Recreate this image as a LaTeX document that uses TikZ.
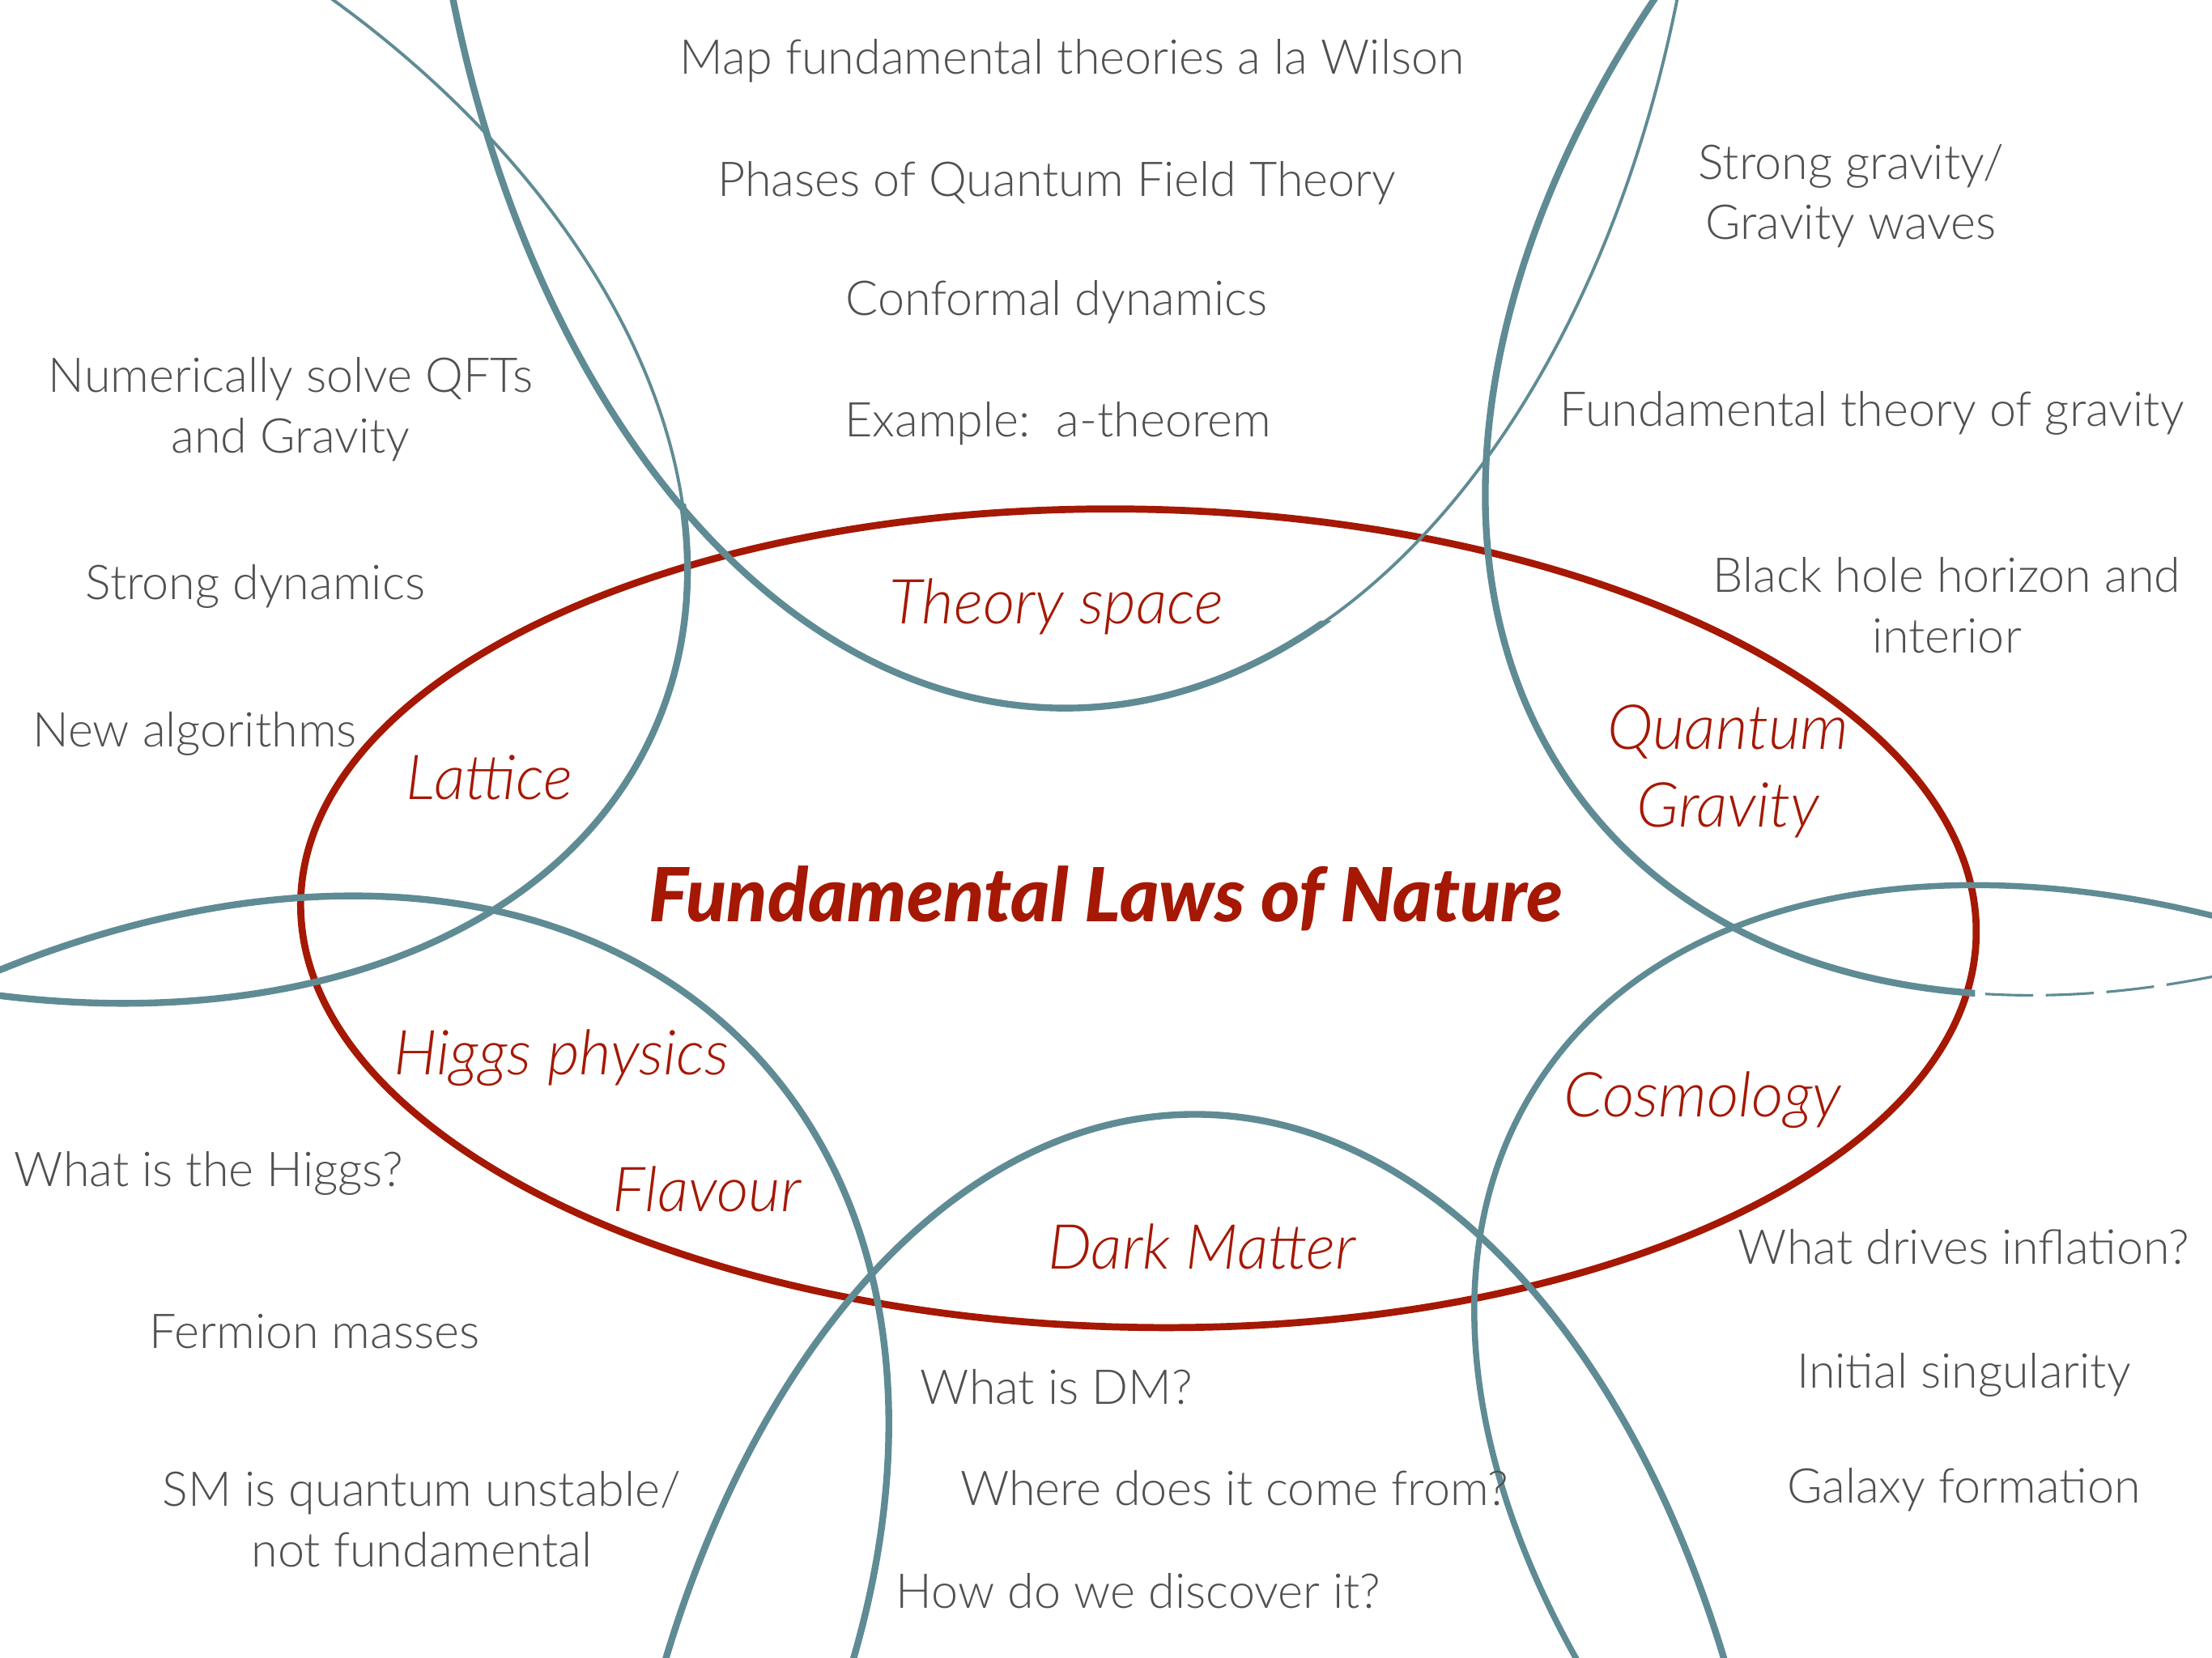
\documentclass[tikz,border=0pt]{standalone}
\usepackage{fontspec}
\setmainfont{Lato}[UprightFont=* Light, ItalicFont=* Light Italic, BoldFont=* Black, BoldItalicFont=* Black Italic]
\definecolor{tealc}{RGB}{95,139,148}
\definecolor{redc}{RGB}{165,24,4}
\definecolor{txtgray}{RGB}{80,80,80}
\begin{document}
\begin{tikzpicture}[x=1pt,y=-1pt,
  gtext/.style={text=txtgray, font=\fontsize{34}{43}\selectfont, align=center, inner sep=0pt},
  rtext/.style={text=redc, font=\fontsize{44}{55}\selectfont\itshape, align=center, inner sep=0pt},
  ctext/.style={text=redc, font=\fontsize{53}{60}\selectfont\bfseries\itshape, inner sep=0pt},
  thick teal/.style={draw=tealc, line width=4.8pt},
  thin teal/.style={draw=tealc, line width=2.2pt},
  redline/.style={draw=redc, line width=5pt}]
\useasboundingbox (0,0) rectangle (1568,1175);
\fill[white] (0,0) rectangle (1568,1175);
\clip (0,0) rectangle (1568,1175);

% red ellipse
\draw[redline, rotate around={-1.2:(807,651)}] (807,651) ellipse [x radius=594pt, y radius=290pt];

% lattice ellipse (upper part thin)
\draw[thin teal, rotate around={-24.2:(-83,273)}] (-83,273) ellipse [x radius=599pt, y radius=398pt];
\begin{scope}
  \clip (-50,357) rectangle (700,900);
  \draw[thick teal, rotate around={-24.2:(-83,273)}] (-83,273) ellipse [x radius=599pt, y radius=398pt];
\end{scope}

% theory space ellipse (upper right part thin)
\draw[thin teal] (755,-218) ellipse [x radius=455pt, y radius=720pt];
\begin{scope}
  \clip (-50,-50) -- (900,-50) -- (900,440) -- (1300,440) -- (1300,900) -- (-50,900) -- cycle;
  \draw[thick teal] (755,-218) ellipse [x radius=455pt, y radius=720pt];
\end{scope}

% quantum gravity ellipse (lower right tail dashed)
\begin{scope}
  \clip (-50,-50) -- (1600,-50) -- (1600,600) -- (1400,600) -- (1400,900) -- (-50,900) -- cycle;
  \draw[thick teal, rotate around={38.4:(1665,144)}] (1665,144) ellipse [x radius=689pt, y radius=464pt];
\end{scope}
\begin{scope}
  \clip (1400,600) rectangle (1600,900);
  \draw[draw=tealc, line width=1.8pt, dash pattern=on 34pt off 9pt, rotate around={38.4:(1665,144)}] (1665,144) ellipse [x radius=689pt, y radius=464pt];
\end{scope}

% cosmology ellipse
\draw[thick teal, line width=4.3pt, rotate around={-34.2:(1645,1138)}] (1645,1138) ellipse [x radius=667pt, y radius=419pt];

% dark matter ellipse
\draw[thick teal] (847,1487) ellipse [x radius=419pt, y radius=697pt];

% higgs ellipse
\draw[thick teal, rotate around={43.8:(30,1226)}] (30,1226) ellipse [x radius=696pt, y radius=474pt];

% grey texts
\node[gtext] (t1) at (760,43) {Map fundamental theories a la Wilson};
\node[gtext] (t2) at (749,130) {Phases of Quantum Field Theory};
\node[gtext] (t3) at (749,214) {Conformal dynamics};
\node[gtext] (t4) at (750,300) {Example:\ \ a-theorem};
\node[gtext] (t5) at (1312,139) {Strong gravity/\\Gravity waves};
\node[gtext] (t6) at (1327,293) {Fundamental theory of gravity};
\node[gtext] (t7) at (1380,429) {Black hole horizon and\\interior};
\node[gtext] (t8) at (206,290) {Numerically solve QFTs\\and Gravity};
\node[gtext] (t9) at (181,416) {Strong dynamics};
\node[gtext] (t10) at (138,520) {New algorithms};
\node[gtext] (t11) at (148,832) {What is the Higgs?};
\node[gtext] (t12) at (223,944) {Fermion masses};
\node[gtext] (t13) at (299,1077) {SM is quantum unstable/\\not fundamental};
\node[gtext] (t14) at (749,983) {What is DM?};
\node[gtext] (t15) at (875,1055) {Where does it come from?};
\node[gtext] (t16) at (807,1128) {How do we discover it?};
\node[gtext] (t17) at (1392,884) {What drives inflation?};
\node[gtext] (t18) at (1392,975) {Initial singularity};
\node[gtext] (t19) at (1392,1056) {Galaxy formation};

% red labels
\node[rtext] (l1) at (749,430) {Theory space};
\node[rtext] (l2) at (347,551) {Lattice};
\node[rtext] (l3) at (1225,547) {Quantum\\Gravity};
\node[rtext] (l4) at (398,750) {Higgs physics};
\node[rtext] (l5) at (501,843) {Flavour};
\node[rtext] (l6) at (852,884) {Dark Matter};
\node[rtext] (l7) at (1207,780) {Cosmology};
\node[ctext] (c) at (784,637) {Fundamental Laws of Nature};
\end{tikzpicture}
\end{document}
